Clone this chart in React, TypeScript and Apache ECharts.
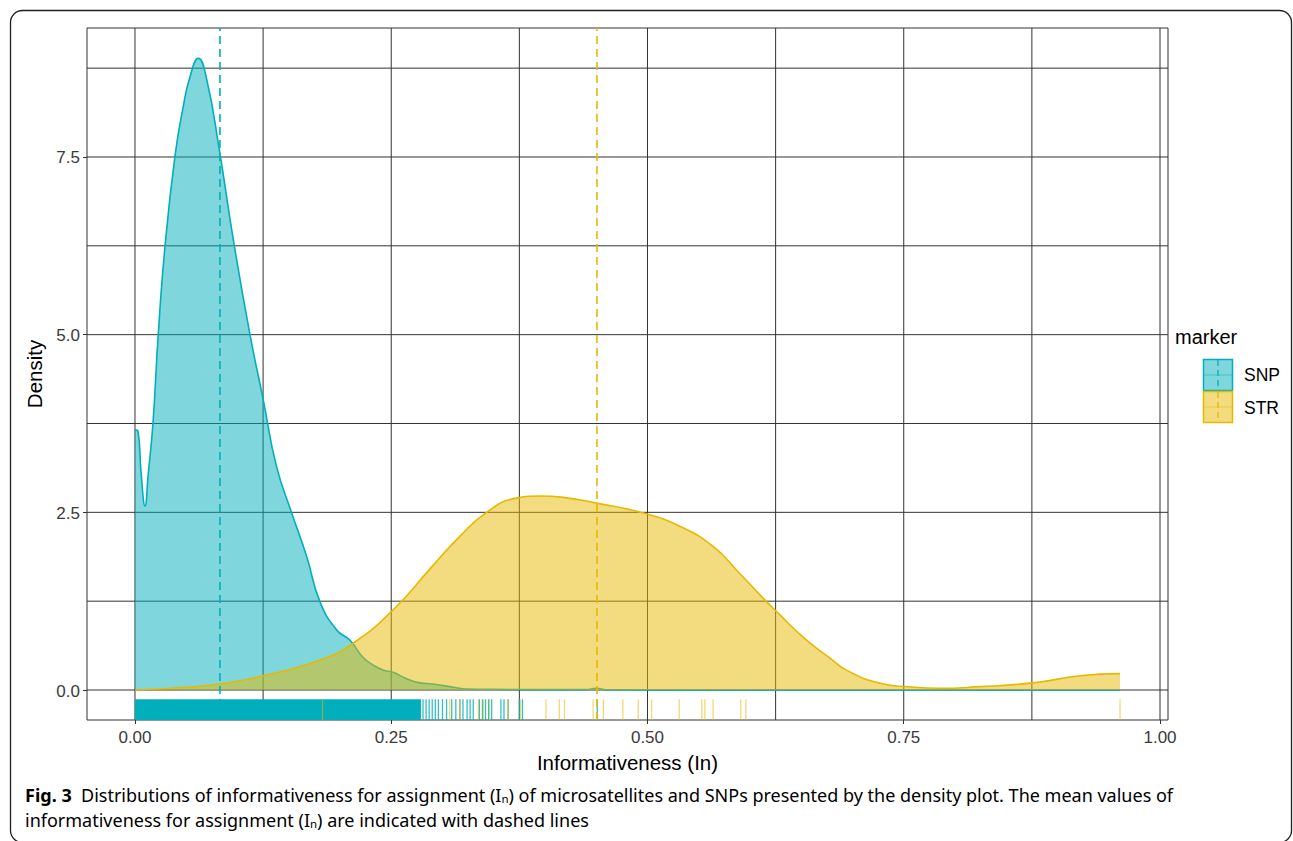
import React, { useEffect, useRef } from "react";
import * as echarts from "echarts";

// ---- data ----
const markers = ["SNP", "STR"];
const xTickValues = [0, 0.25, 0.5, 0.75, 1.0];
const yTickValues = [0, 2.5, 5.0, 7.5];
const xGridValues = [0, 0.125, 0.25, 0.375, 0.5, 0.625, 0.75, 0.875, 1.0];
const yGridValues = [0, 1.25, 2.5, 3.75, 5.0, 6.25, 7.5, 8.75];

const snpX = [0, 0.003, 0.006, 0.0098, 0.013, 0.0176, 0.0227, 0.0293, 0.039, 0.0471, 0.0537, 0.0618, 0.07, 0.0822, 0.0959, 0.1122, 0.1252, 0.138, 0.1529, 0.1675, 0.1805, 0.1968, 0.2098, 0.2224, 0.2325, 0.242, 0.2517, 0.2634, 0.278, 0.2907, 0.31, 0.325, 0.35, 0.4, 0.44, 0.45, 0.46, 0.55, 0.961];
const snpDensity = [3.66, 3.64, 3.05, 2.59, 3.05, 3.76, 5.0, 6.24, 7.51, 8.21, 8.63, 8.89, 8.59, 7.61, 6.34, 5.0, 4.08, 3.15, 2.49, 1.88, 1.24, 0.845, 0.7, 0.46, 0.35, 0.28, 0.25, 0.17, 0.1, 0.085, 0.04, 0.015, 0.01, 0.005, 0.005, 0.025, 0.003, 0.0, 0.0];

const strX = [0, 0.034, 0.083, 0.125, 0.18, 0.213, 0.252, 0.29, 0.3155, 0.343, 0.372, 0.395, 0.418, 0.45, 0.496, 0.532, 0.564, 0.59, 0.613, 0.629, 0.646, 0.662, 0.678, 0.694, 0.727, 0.755, 0.785, 0.824, 0.876, 0.922, 0.961];
const strDensity = [0.0, 0.024, 0.085, 0.2, 0.42, 0.66, 1.13, 1.74, 2.14, 2.5, 2.7, 2.73, 2.71, 2.63, 2.49, 2.3, 2.02, 1.64, 1.29, 1.06, 0.82, 0.62, 0.45, 0.28, 0.094, 0.045, 0.024, 0.047, 0.1, 0.2, 0.23];

const snpMean = 0.0829;
const strMean = 0.4507;

const snpRugBlock = [0, 0.279];
const snpRugTicks = [0.281, 0.284, 0.287, 0.29, 0.293, 0.296, 0.3, 0.304, 0.309, 0.313, 0.317, 0.32, 0.324, 0.327, 0.33, 0.336, 0.339, 0.342, 0.345, 0.348, 0.357, 0.36, 0.364, 0.375, 0.378, 0.451];
const strRugTicks = [0.183, 0.307, 0.317, 0.335, 0.34, 0.346, 0.364, 0.376, 0.401, 0.414, 0.419, 0.447, 0.457, 0.476, 0.491, 0.504, 0.531, 0.553, 0.556, 0.564, 0.591, 0.596, 0.961];

const X_MIN = -0.0468;
const X_MAX = 1.0078;
const Y_MIN = -0.422;
const Y_MAX = 9.315;

const TEAL = "#00AFBB";
const GOLD = "#E7B800";
const TEAL_FILL = "rgba(0,175,187,0.5)";
const GOLD_FILL = "rgba(231,184,0,0.5)";
const GRID_COLOR = "#333333";
const FONT = "'Liberation Sans', Arial, Helvetica, sans-serif";
const CAP_FONT = "'Noto Sans', sans-serif";

const rugTop = Y_MIN + 0.03 * (Y_MAX - Y_MIN);

export default function App() {
  const ref = useRef<HTMLDivElement>(null);

  useEffect(() => {
    if (!ref.current) return;
    const chart = echarts.init(ref.current, null, { renderer: "svg" });

    const vLine = (color: string, width: number, dash?: number[]) => (params: any, api: any) => {
      const x = api.value(0);
      const p0 = api.coord([x, Y_MIN]);
      const p1 = api.coord([x, Y_MAX]);
      return {
        type: "line",
        shape: { x1: p0[0], y1: p0[1], x2: p1[0], y2: p1[1] },
        style: { stroke: color, lineWidth: width, lineDash: dash },
      };
    };
    const hLine = (params: any, api: any) => {
      const y = api.value(1);
      const p0 = api.coord([X_MIN, y]);
      const p1 = api.coord([X_MAX, y]);
      return {
        type: "line",
        shape: { x1: p0[0], y1: p0[1], x2: p1[0], y2: p1[1] },
        style: { stroke: GRID_COLOR, lineWidth: 1 },
      };
    };
    const rugTick = (color: string, opacity: number) => (params: any, api: any) => {
      const x = api.value(0);
      const p0 = api.coord([x, Y_MIN]);
      const p1 = api.coord([x, rugTop]);
      return {
        type: "line",
        shape: { x1: p0[0], y1: p0[1], x2: p1[0], y2: p1[1] },
        style: { stroke: color, lineWidth: 1.3, opacity },
      };
    };
    const rugBlock = (params: any, api: any) => {
      const a = api.coord([api.value(0), rugTop]);
      const b = api.coord([api.value(1), Y_MIN]);
      return {
        type: "rect",
        shape: { x: a[0], y: a[1], width: b[0] - a[0], height: b[1] - a[1] },
        style: { fill: TEAL },
      };
    };
    const xLabel = (params: any, api: any) => {
      const v = api.value(0);
      const p = api.coord([v, Y_MIN]);
      return {
        type: "text",
        x: p[0],
        y: p[1] + 9,
        style: { text: v.toFixed(2), fontFamily: FONT, fontSize: 17, fill: "#3a3a3a", align: "center", verticalAlign: "top" },
      };
    };
    const yLabel = (params: any, api: any) => {
      const v = api.value(1);
      const p = api.coord([X_MIN, v]);
      return {
        type: "text",
        x: p[0] - 7,
        y: p[1] + 1,
        style: { text: v.toFixed(1), fontFamily: FONT, fontSize: 17, fill: "#3a3a3a", align: "right", verticalAlign: "middle" },
      };
    };

    const captionRich = {
      b: { fontFamily: CAP_FONT, fontWeight: "bold", fontSize: 18, color: "#231f20", lineHeight: 22, verticalAlign: "bottom" },
      t: { fontFamily: CAP_FONT, fontSize: 18, color: "#231f20", lineHeight: 22, verticalAlign: "bottom" },
      s: { fontFamily: CAP_FONT, fontSize: 11.5, color: "#231f20", lineHeight: 18, verticalAlign: "bottom" },
    };

    const legendKey = (y: number, fill: string, stroke: string) => ({
      type: "group",
      children: [
        { type: "rect", shape: { x: 1203.5, y: y + 0.5, width: 29, height: 31 }, style: { fill, stroke, lineWidth: 1.5 } },
        { type: "line", shape: { x1: 1204, y1: y + 16, x2: 1232, y2: y + 16 }, style: { stroke, lineWidth: 1, opacity: 0.5 } },
        { type: "line", shape: { x1: 1218, y1: y + 1, x2: 1218, y2: y + 31 }, style: { stroke, lineWidth: 1.3, lineDash: [6, 4] } },
      ],
    });

    chart.setOption({
      animation: false,
      backgroundColor: "#ffffff",
      grid: {
        left: 87,
        top: 28,
        width: 1081,
        height: 692,
        show: true,
        backgroundColor: "#ffffff",
        borderColor: GRID_COLOR,
        borderWidth: 1,
      },
      xAxis: {
        type: "value",
        min: X_MIN,
        max: X_MAX,
        name: "Informativeness (In)",
        nameLocation: "middle",
        nameGap: 32,
        nameTextStyle: { fontFamily: FONT, fontSize: 20.5, color: "#000" },
        axisLine: { show: false, onZero: false },
        splitLine: { show: false },
        axisTick: { show: true, length: 4, customValues: xTickValues, lineStyle: { color: GRID_COLOR, width: 1 } },
        axisLabel: { show: false },
      },
      yAxis: {
        type: "value",
        min: Y_MIN,
        max: Y_MAX,
        name: "Density",
        nameLocation: "middle",
        nameGap: 42,
        nameRotate: 90,
        nameTextStyle: { fontFamily: FONT, fontSize: 20.5, color: "#000" },
        axisLine: { show: false, onZero: false },
        splitLine: { show: false },
        axisTick: { show: true, length: 4, customValues: yTickValues, lineStyle: { color: GRID_COLOR, width: 1 } },
        axisLabel: { show: false },
      },
      series: [
        { type: "custom", name: "gridx", z: 1, silent: true, data: xGridValues.map((v) => [v, 0]), encode: { x: 0, y: 1 }, renderItem: vLine(GRID_COLOR, 1) },
        { type: "custom", name: "gridy", z: 1, silent: true, data: yGridValues.map((v) => [0, v]), encode: { x: 0, y: 1 }, renderItem: hLine },
        {
          type: "line",
          name: markers[0],
          z: 2,
          data: snpX.map((x, i) => [x, snpDensity[i]]),
          symbol: "none",
          smooth: 0.5,
          lineStyle: { color: TEAL, width: 1.6 },
          areaStyle: { color: TEAL_FILL, opacity: 1 },
          itemStyle: { color: TEAL },
        },
        {
          type: "line",
          name: markers[1],
          z: 3,
          data: strX.map((x, i) => [x, strDensity[i]]),
          symbol: "none",
          smooth: 0.5,
          lineStyle: { color: GOLD, width: 1.6 },
          areaStyle: { color: GOLD_FILL, opacity: 1 },
          itemStyle: { color: GOLD },
        },
        { type: "custom", name: "snpRugBlock", z: 4, silent: true, data: [snpRugBlock], encode: { x: [0, 1] }, renderItem: rugBlock },
        { type: "custom", name: "snpRug", z: 4, silent: true, data: snpRugTicks.map((v) => [v, 0]), encode: { x: 0, y: 1 }, renderItem: rugTick(TEAL, 0.8) },
        { type: "custom", name: "strRug", z: 5, silent: true, data: strRugTicks.map((v) => [v, 0]), encode: { x: 0, y: 1 }, renderItem: rugTick(GOLD, 0.55) },
        { type: "custom", name: "snpMean", z: 6, silent: true, data: [[snpMean, 0]], encode: { x: 0, y: 1 }, renderItem: vLine(TEAL, 1.6, [8, 5]) },
        { type: "custom", name: "strMean", z: 6, silent: true, data: [[strMean, 0]], encode: { x: 0, y: 1 }, renderItem: vLine(GOLD, 1.6, [8, 5]) },
        { type: "custom", name: "xLabels", z: 6, silent: true, clip: false, data: xTickValues.map((v) => [v, 0]), encode: { x: 0, y: 1 }, renderItem: xLabel },
        { type: "custom", name: "yLabels", z: 6, silent: true, clip: false, data: yTickValues.map((v) => [0, v]), encode: { x: 0, y: 1 }, renderItem: yLabel },
      ],
      graphic: [
        {
          type: "rect",
          silent: true,
          z: 100,
          shape: { x: 10.5, y: 10.5, width: 1281, height: 832, r: 12 },
          style: { fill: "none", stroke: "#231f20", lineWidth: 1.3 },
        },
        {
          type: "text",
          left: 1175,
          top: 327,
          style: { text: "marker", fontFamily: FONT, fontSize: 20, fill: "#000" },
        },
        legendKey(359, TEAL_FILL, TEAL),
        legendKey(391, GOLD_FILL, GOLD),
        { type: "text", left: 1244, top: 366, style: { text: markers[0], fontFamily: FONT, fontSize: 17.5, fill: "#000" } },
        { type: "text", left: 1244, top: 399, style: { text: markers[1], fontFamily: FONT, fontSize: 17.5, fill: "#000" } },
        {
          type: "text",
          left: 25,
          top: 786,
          style: {
            text: "{b|Fig. 3}{t|  Distributions of informativeness for assignment (I}{s|n}{t|) of microsatellites and SNPs presented by the density plot. The mean values of}",
            rich: captionRich,
          },
        },
        {
          type: "text",
          left: 25,
          top: 811,
          style: {
            text: "{t|informativeness for assignment (I}{s|n}{t|) are indicated with dashed lines}",
            rich: captionRich,
          },
        },
      ],
    });

    return () => chart.dispose();
  }, []);

  return (
    <div
      ref={ref}
      style={{ position: "fixed", left: 0, top: 0, width: 1293, height: 841, background: "#fff" }}
    />
  );
}
